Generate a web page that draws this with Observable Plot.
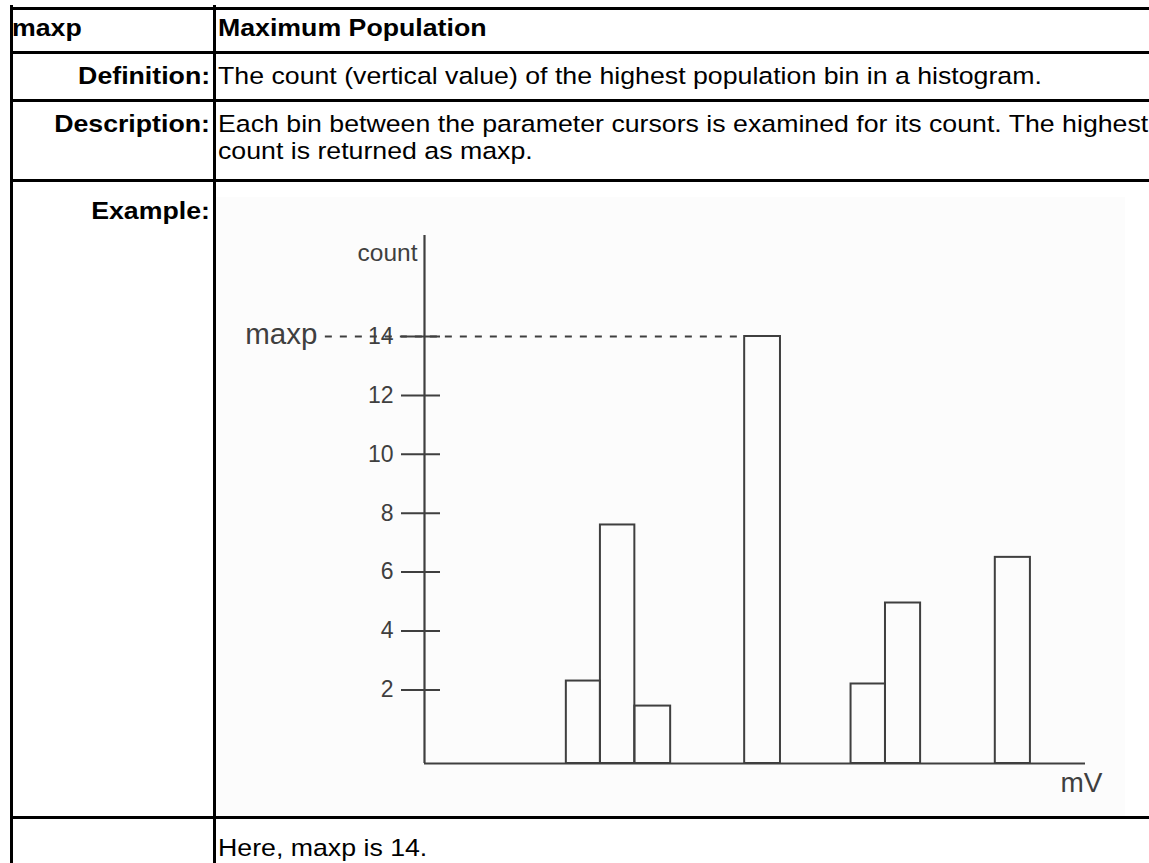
<!DOCTYPE html>
<html>
<head>
<meta charset="utf-8">
<script src="https://cdn.jsdelivr.net/npm/d3@7"></script>
<script src="https://cdn.jsdelivr.net/npm/@observablehq/plot@0.6"></script>
<style>
  html, body { margin: 0; padding: 0; background: #fff; overflow: hidden; width: 1149px; height: 863px; }
  body { position: relative; font-family: "Liberation Sans", Arial, Helvetica, sans-serif; color: #000; }
  .hl { position: absolute; left: 10px; width: 1200px; height: 3px; background: #000; }
  .vl { position: absolute; top: 5px; width: 3px; height: 900px; background: #000; }
  .t { position: absolute; font-size: 24.5px; line-height: 24.5px; white-space: nowrap; transform: scaleX(1.09); }
  .l { transform-origin: 0 0; }
  .r { right: 939px; text-align: right; transform-origin: 100% 0; }
  .b { font-weight: bold; }
  #chart { position: absolute; left: 216px; top: 197px; }
  #chart svg { display: block; }
</style>
</head>
<body>
<!-- table rules -->
<div class="hl" style="top:7px"></div>
<div class="hl" style="top:51px"></div>
<div class="hl" style="top:99px"></div>
<div class="hl" style="top:179px"></div>
<div class="hl" style="top:816px"></div>
<div class="vl" style="left:10px"></div>
<div class="vl" style="left:213px"></div>

<!-- table text -->
<div class="t l b" style="left:12px; top:16px">maxp</div>
<div class="t l b" style="left:218px; top:16px">Maximum Population</div>
<div class="t r b" style="top:64px">Definition:</div>
<div class="t l" style="left:218px; top:64px">The count (vertical value) of the highest population bin in a histogram.</div>
<div class="t r b" style="top:112px">Description:</div>
<div class="t l" style="left:218px; top:112px">Each bin between the parameter cursors is examined for its count. The highest</div>
<div class="t l" style="left:218px; top:139px">count is returned as maxp.</div>
<div class="t r b" style="top:199px">Example:</div>
<div class="t l" id="note" style="left:218px; top:836px"></div>

<div id="chart"></div>

<script>
// Histogram bins: lower and upper edge (mV) and the count in each bin
const binStart = [4.12, 5.11, 6.11, 9.30, 12.39, 13.39, 16.58];
const binEnd   = [5.11, 6.11, 7.15, 10.34, 13.39, 14.41, 17.60];
const counts   = [2.3, 7.6, 1.45, 14, 2.2, 4.95, 6.5];

// Count axis tick values
const yTicks = [2, 4, 6, 8, 10, 12, 14];

const bins = counts.map((c, i) => ({x1: binStart[i], x2: binEnd[i], count: c}));
const maxp = d3.max(counts);
const peak = bins.find(b => b.count === maxp);

// Scale extents and annotation anchors (in data units)
const axisFloor = -0.5;      // the mV axis sits a little below zero count
const xExtent = [0, 19.2];
const yExtent = [axisFloor, 17.43];
const maxpLabelX = -2.88;    // where the "maxp" leader starts, left of the count axis

const ink = "#3f3f3f";

const chart = Plot.plot({
  width: 909,
  height: 619,
  marginLeft: 208,
  marginRight: 40,
  marginTop: 38,
  marginBottom: 53,
  x: {domain: xExtent, axis: null},
  y: {domain: yExtent},
  style: {
    background: "#fcfcfc",
    color: ink,
    overflow: "visible",
    fontFamily: "'Liberation Sans', Arial, Helvetica, sans-serif"
  },
  marks: [
    // dashed leader from the maxp label to the tallest bin
    Plot.ruleY([maxp], {x1: maxpLabelX, x2: peak.x1, stroke: ink, strokeWidth: 2, strokeDasharray: "7,8"}),
    // histogram bars, outlined only
    Plot.rectY(bins, {x1: "x1", x2: "x2", y1: axisFloor, y2: "count", fill: "none", stroke: ink, strokeWidth: 2, inset: 0}),
    // axis lines
    Plot.ruleX([0], {stroke: ink, strokeWidth: 2.2}),
    Plot.ruleY([axisFloor], {stroke: ink, strokeWidth: 2.2}),
    // tick marks crossing the count axis
    Plot.axisY(yTicks, {tickSize: 39, dx: 16, tickFormat: () => "", label: null, stroke: ink, strokeWidth: 2}),
    // tick labels
    Plot.axisY(yTicks, {tickSize: 0, tickPadding: 31, label: null, fontSize: 23}),
    // axis titles
    Plot.text(["count"], {text: d => d, frameAnchor: "top-left", textAnchor: "end", lineAnchor: "top", dx: -7, dy: 8, fontSize: 24.5}),
    Plot.text(["mV"], {text: d => d, frameAnchor: "bottom-right", textAnchor: "end", lineAnchor: "top", dx: 17, dy: 9, fontSize: 28}),
    // maxp annotation
    Plot.text([maxp], {x: maxpLabelX, y: d => d, text: () => "maxp", textAnchor: "end", lineAnchor: "middle", dx: -8, dy: -2, fontSize: 29.5})
  ]
});

document.getElementById("chart").append(chart);
document.getElementById("note").textContent = `Here, maxp is ${maxp}.`;
</script>
</body>
</html>
